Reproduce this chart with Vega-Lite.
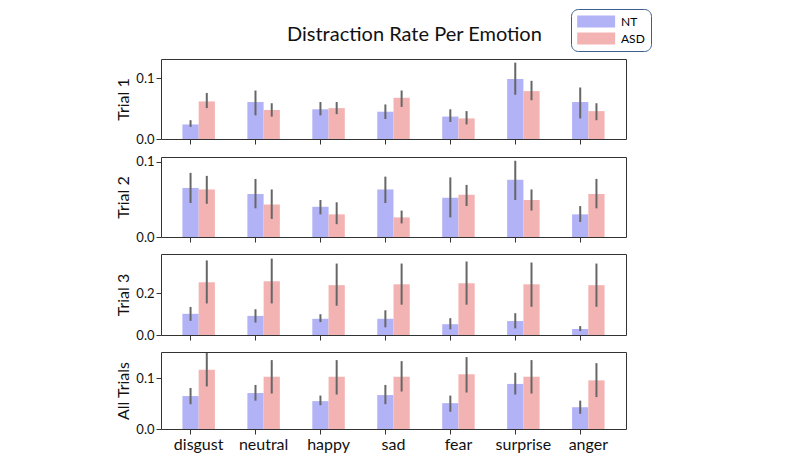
{
  "$schema": "https://vega.github.io/schema/vega-lite/v6.json",
  "padding": {"left": 115, "top": 8, "right": 5, "bottom": 5},
  "title": {"text": "Distraction Rate Per Emotion", "fontSize": 20, "fontWeight": "normal", "color": "#111", "anchor": "middle", "dx": 31, "offset": -36},
  "config": {
    "font": "Lato",
    "view": {"stroke": "#333", "strokeWidth": 1},
    "axis": {"domain": false, "grid": false, "tickColor": "#333", "tickSize": 5, "labelColor": "#111", "titleColor": "#111", "labelFontSize": 13, "titleFontSize": 16, "titleFontWeight": "normal"},
    "legend": {"labelFontSize": 13}
  },
  "spacing": 8,
  "data": {"values": [
    {"trial":"Trial 1","emotion":"disgust","group":"NT","rate":0.024,"lo":0.020,"hi":0.031},
    {"trial":"Trial 1","emotion":"disgust","group":"ASD","rate":0.062,"lo":0.051,"hi":0.076},
    {"trial":"Trial 1","emotion":"neutral","group":"NT","rate":0.061,"lo":0.039,"hi":0.080},
    {"trial":"Trial 1","emotion":"neutral","group":"ASD","rate":0.048,"lo":0.037,"hi":0.059},
    {"trial":"Trial 1","emotion":"happy","group":"NT","rate":0.049,"lo":0.039,"hi":0.061},
    {"trial":"Trial 1","emotion":"happy","group":"ASD","rate":0.051,"lo":0.041,"hi":0.061},
    {"trial":"Trial 1","emotion":"sad","group":"NT","rate":0.045,"lo":0.033,"hi":0.057},
    {"trial":"Trial 1","emotion":"sad","group":"ASD","rate":0.068,"lo":0.053,"hi":0.080},
    {"trial":"Trial 1","emotion":"fear","group":"NT","rate":0.037,"lo":0.028,"hi":0.049},
    {"trial":"Trial 1","emotion":"fear","group":"ASD","rate":0.034,"lo":0.024,"hi":0.046},
    {"trial":"Trial 1","emotion":"surprise","group":"NT","rate":0.099,"lo":0.073,"hi":0.126},
    {"trial":"Trial 1","emotion":"surprise","group":"ASD","rate":0.079,"lo":0.064,"hi":0.096},
    {"trial":"Trial 1","emotion":"anger","group":"NT","rate":0.061,"lo":0.034,"hi":0.085},
    {"trial":"Trial 1","emotion":"anger","group":"ASD","rate":0.046,"lo":0.031,"hi":0.059},
    {"trial":"Trial 2","emotion":"disgust","group":"NT","rate":0.065,"lo":0.045,"hi":0.085},
    {"trial":"Trial 2","emotion":"disgust","group":"ASD","rate":0.063,"lo":0.044,"hi":0.081},
    {"trial":"Trial 2","emotion":"neutral","group":"NT","rate":0.057,"lo":0.038,"hi":0.077},
    {"trial":"Trial 2","emotion":"neutral","group":"ASD","rate":0.043,"lo":0.024,"hi":0.063},
    {"trial":"Trial 2","emotion":"happy","group":"NT","rate":0.040,"lo":0.030,"hi":0.049},
    {"trial":"Trial 2","emotion":"happy","group":"ASD","rate":0.030,"lo":0.017,"hi":0.046},
    {"trial":"Trial 2","emotion":"sad","group":"NT","rate":0.063,"lo":0.045,"hi":0.080},
    {"trial":"Trial 2","emotion":"sad","group":"ASD","rate":0.026,"lo":0.018,"hi":0.035},
    {"trial":"Trial 2","emotion":"fear","group":"NT","rate":0.052,"lo":0.026,"hi":0.079},
    {"trial":"Trial 2","emotion":"fear","group":"ASD","rate":0.056,"lo":0.041,"hi":0.069},
    {"trial":"Trial 2","emotion":"surprise","group":"NT","rate":0.076,"lo":0.049,"hi":0.101},
    {"trial":"Trial 2","emotion":"surprise","group":"ASD","rate":0.049,"lo":0.035,"hi":0.063},
    {"trial":"Trial 2","emotion":"anger","group":"NT","rate":0.030,"lo":0.020,"hi":0.041},
    {"trial":"Trial 2","emotion":"anger","group":"ASD","rate":0.057,"lo":0.038,"hi":0.077},
    {"trial":"Trial 3","emotion":"disgust","group":"NT","rate":0.102,"lo":0.068,"hi":0.135},
    {"trial":"Trial 3","emotion":"disgust","group":"ASD","rate":0.254,"lo":0.152,"hi":0.359},
    {"trial":"Trial 3","emotion":"neutral","group":"NT","rate":0.092,"lo":0.060,"hi":0.124},
    {"trial":"Trial 3","emotion":"neutral","group":"ASD","rate":0.259,"lo":0.152,"hi":0.368},
    {"trial":"Trial 3","emotion":"happy","group":"NT","rate":0.078,"lo":0.062,"hi":0.100},
    {"trial":"Trial 3","emotion":"happy","group":"ASD","rate":0.240,"lo":0.141,"hi":0.344},
    {"trial":"Trial 3","emotion":"sad","group":"NT","rate":0.078,"lo":0.037,"hi":0.119},
    {"trial":"Trial 3","emotion":"sad","group":"ASD","rate":0.244,"lo":0.146,"hi":0.344},
    {"trial":"Trial 3","emotion":"fear","group":"NT","rate":0.052,"lo":0.027,"hi":0.081},
    {"trial":"Trial 3","emotion":"fear","group":"ASD","rate":0.249,"lo":0.146,"hi":0.354},
    {"trial":"Trial 3","emotion":"surprise","group":"NT","rate":0.067,"lo":0.032,"hi":0.105},
    {"trial":"Trial 3","emotion":"surprise","group":"ASD","rate":0.244,"lo":0.136,"hi":0.349},
    {"trial":"Trial 3","emotion":"anger","group":"NT","rate":0.029,"lo":0.019,"hi":0.043},
    {"trial":"Trial 3","emotion":"anger","group":"ASD","rate":0.240,"lo":0.136,"hi":0.344},
    {"trial":"All Trials","emotion":"disgust","group":"NT","rate":0.065,"lo":0.049,"hi":0.081},
    {"trial":"All Trials","emotion":"disgust","group":"ASD","rate":0.117,"lo":0.084,"hi":0.150},
    {"trial":"All Trials","emotion":"neutral","group":"NT","rate":0.071,"lo":0.056,"hi":0.087},
    {"trial":"All Trials","emotion":"neutral","group":"ASD","rate":0.103,"lo":0.070,"hi":0.136},
    {"trial":"All Trials","emotion":"happy","group":"NT","rate":0.055,"lo":0.047,"hi":0.066},
    {"trial":"All Trials","emotion":"happy","group":"ASD","rate":0.103,"lo":0.068,"hi":0.136},
    {"trial":"All Trials","emotion":"sad","group":"NT","rate":0.067,"lo":0.049,"hi":0.087},
    {"trial":"All Trials","emotion":"sad","group":"ASD","rate":0.103,"lo":0.074,"hi":0.134},
    {"trial":"All Trials","emotion":"fear","group":"NT","rate":0.051,"lo":0.034,"hi":0.066},
    {"trial":"All Trials","emotion":"fear","group":"ASD","rate":0.108,"lo":0.072,"hi":0.142},
    {"trial":"All Trials","emotion":"surprise","group":"NT","rate":0.089,"lo":0.068,"hi":0.111},
    {"trial":"All Trials","emotion":"surprise","group":"ASD","rate":0.103,"lo":0.070,"hi":0.136},
    {"trial":"All Trials","emotion":"anger","group":"NT","rate":0.043,"lo":0.030,"hi":0.056},
    {"trial":"All Trials","emotion":"anger","group":"ASD","rate":0.096,"lo":0.063,"hi":0.130}
  ]},
  "vconcat": [
    {
      "width": 465, "height": 80,
      "transform": [{"filter": "datum.trial == 'Trial 1'"}],
      "encoding": {
        "x": {"field": "emotion", "type": "nominal", "sort": ["disgust","neutral","happy","sad","fear","surprise","anger"], "scale": {"paddingInner": 0.5, "paddingOuter": 0.33}, "axis": {"labels": false, "title": null, "bandPosition": 0.25}},
        "xOffset": {"field": "group", "type": "nominal", "sort": ["NT","ASD"], "scale": {"paddingInner": 0, "paddingOuter": 0}}
      },
      "layer": [
        {"mark": {"type": "bar"},
         "encoding": {
           "y": {"field": "rate", "type": "quantitative", "title": "Trial 1", "scale": {"domain": [0, 0.132], "nice": false}, "axis": {"values": [0, 0.1], "format": ".1f"}},
           "color": {"field": "group", "type": "nominal", "sort": ["NT","ASD"], "scale": {"domain": ["NT","ASD"], "range": ["#b2b2f6","#f4b3b3"]},
             "legend": {"title": null, "orient": "none", "legendX": 410, "legendY": -50, "symbolType": "M-1,-0.95H5V0.95H-1Z", "symbolSize": 160, "symbolStrokeWidth": 0, "symbolOpacity": 1, "strokeColor": "#3d5f8f", "cornerRadius": 7, "padding": 6, "labelFontSize": 12, "labelOffset": 31, "rowPadding": 4}}
         }},
        {"mark": {"type": "rule", "color": "#666", "strokeWidth": 2},
         "encoding": {"y": {"field": "lo", "type": "quantitative", "title": "Trial 1"}, "y2": {"field": "hi"}}}
      ]
    },
    {
      "width": 465, "height": 80,
      "transform": [{"filter": "datum.trial == 'Trial 2'"}],
      "encoding": {
        "x": {"field": "emotion", "type": "nominal", "sort": ["disgust","neutral","happy","sad","fear","surprise","anger"], "scale": {"paddingInner": 0.5, "paddingOuter": 0.33}, "axis": {"labels": false, "title": null, "bandPosition": 0.25}},
        "xOffset": {"field": "group", "type": "nominal", "sort": ["NT","ASD"], "scale": {"paddingInner": 0, "paddingOuter": 0}}
      },
      "layer": [
        {"mark": {"type": "bar"},
         "encoding": {
           "y": {"field": "rate", "type": "quantitative", "title": "Trial 2", "scale": {"domain": [0, 0.106], "nice": false}, "axis": {"values": [0, 0.1], "format": ".1f"}},
           "color": {"field": "group", "type": "nominal", "sort": ["NT","ASD"], "scale": {"domain": ["NT","ASD"], "range": ["#b2b2f6","#f4b3b3"]}, "legend": null}
         }},
        {"mark": {"type": "rule", "color": "#666", "strokeWidth": 2},
         "encoding": {"y": {"field": "lo", "type": "quantitative", "title": "Trial 2"}, "y2": {"field": "hi"}}}
      ]
    },
    {
      "width": 465, "height": 81,
      "transform": [{"filter": "datum.trial == 'Trial 3'"}],
      "encoding": {
        "x": {"field": "emotion", "type": "nominal", "sort": ["disgust","neutral","happy","sad","fear","surprise","anger"], "scale": {"paddingInner": 0.5, "paddingOuter": 0.33}, "axis": {"labels": false, "title": null, "bandPosition": 0.25}},
        "xOffset": {"field": "group", "type": "nominal", "sort": ["NT","ASD"], "scale": {"paddingInner": 0, "paddingOuter": 0}}
      },
      "layer": [
        {"mark": {"type": "bar"},
         "encoding": {
           "y": {"field": "rate", "type": "quantitative", "title": "Trial 3", "scale": {"domain": [0, 0.39], "nice": false}, "axis": {"values": [0, 0.2], "format": ".1f"}},
           "color": {"field": "group", "type": "nominal", "sort": ["NT","ASD"], "scale": {"domain": ["NT","ASD"], "range": ["#b2b2f6","#f4b3b3"]}, "legend": null}
         }},
        {"mark": {"type": "rule", "color": "#666", "strokeWidth": 2},
         "encoding": {"y": {"field": "lo", "type": "quantitative", "title": "Trial 3"}, "y2": {"field": "hi"}}}
      ]
    },
    {
      "width": 465, "height": 77,
      "transform": [{"filter": "datum.trial == 'All Trials'"}],
      "encoding": {
        "x": {"field": "emotion", "type": "nominal", "sort": ["disgust","neutral","happy","sad","fear","surprise","anger"], "scale": {"paddingInner": 0.5, "paddingOuter": 0.33}, "axis": {"title": null, "bandPosition": 0.25, "labelAngle": 0, "labelFontSize": 16, "labelPadding": 2}},
        "xOffset": {"field": "group", "type": "nominal", "sort": ["NT","ASD"], "scale": {"paddingInner": 0, "paddingOuter": 0}}
      },
      "layer": [
        {"mark": {"type": "bar"},
         "encoding": {
           "y": {"field": "rate", "type": "quantitative", "title": "All Trials", "scale": {"domain": [0, 0.152], "nice": false}, "axis": {"values": [0, 0.1], "format": ".1f"}},
           "color": {"field": "group", "type": "nominal", "sort": ["NT","ASD"], "scale": {"domain": ["NT","ASD"], "range": ["#b2b2f6","#f4b3b3"]}, "legend": null}
         }},
        {"mark": {"type": "rule", "color": "#666", "strokeWidth": 2},
         "encoding": {"y": {"field": "lo", "type": "quantitative", "title": "All Trials"}, "y2": {"field": "hi"}}}
      ]
    }
  ]
}
